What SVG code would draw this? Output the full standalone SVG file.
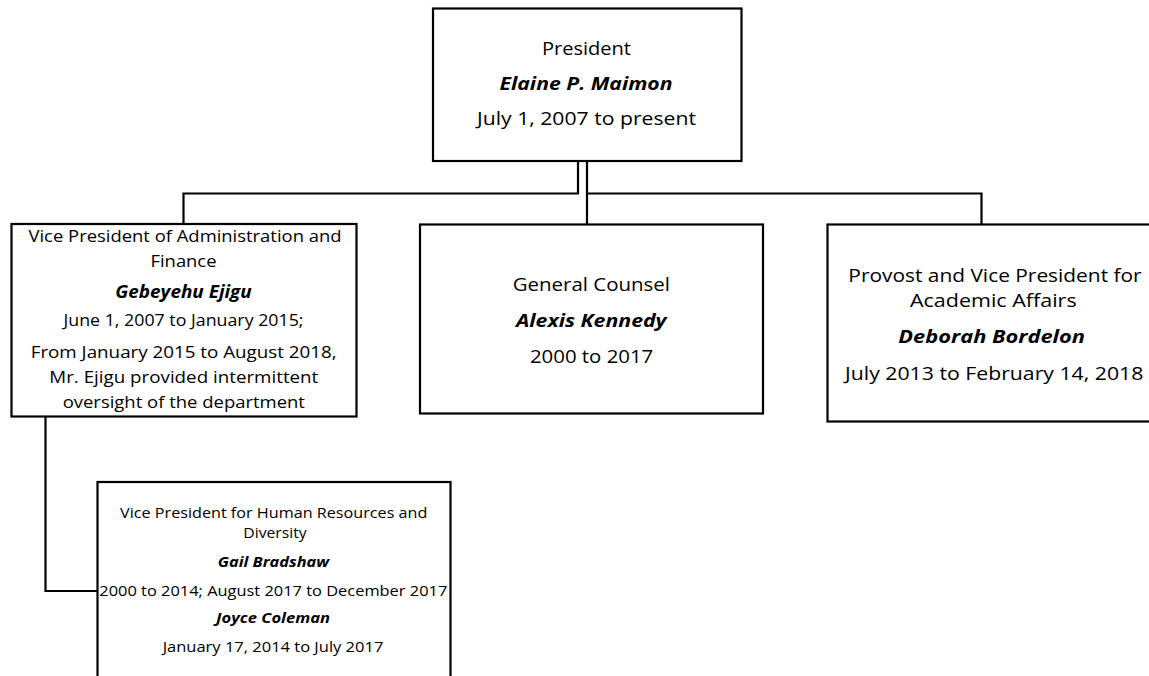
<svg xmlns="http://www.w3.org/2000/svg" width="1149" height="676" viewBox="0 0 1149 676">
  <style>
    .box { fill: #ffffff; stroke: #000000; stroke-width: 2.2; }
    .conn { fill: none; stroke: #000000; stroke-width: 2.2; }
    text { font-family: "Open Sans", "Liberation Sans", sans-serif; fill: #000000; text-anchor: middle; }
    .name { font-weight: bold; font-style: italic; }
    .l1 { font-size: 18.5px; }
    .l2 { font-size: 17.2px; }
    .l3 { font-size: 14.5px; }
  </style>
  <rect width="1149" height="676" fill="#ffffff"/>
  <g id="connectors">
    <path class="conn" d="M578,161 V193.5 H183.5 V224"/>
    <path class="conn" d="M587,161 V224.5"/>
    <path class="conn" d="M587,193.5 H981.5 V224.5"/>
    <path class="conn" d="M45.5,417 V591 H97.5"/>
  </g>
  <g id="president">
    <rect class="box" x="433" y="8.5" width="308.5" height="152.5"/>
    <text class="l1" x="586.5" y="55" textLength="89" lengthAdjust="spacingAndGlyphs">President</text>
    <text class="l1 name" x="586" y="90" textLength="173" lengthAdjust="spacingAndGlyphs">Elaine P. Maimon</text>
    <text class="l1" x="586.5" y="124.5" textLength="219" lengthAdjust="spacingAndGlyphs">July 1, 2007 to present</text>
  </g>
  <g id="vp-admin-finance">
    <rect class="box" x="11.5" y="224" width="345" height="192.5"/>
    <text class="l2" x="185" y="241.7" textLength="313" lengthAdjust="spacingAndGlyphs">Vice President of Administration and</text>
    <text class="l2" x="183.5" y="266.7" textLength="66" lengthAdjust="spacingAndGlyphs">Finance</text>
    <text class="l2 name" x="183.5" y="298.3" textLength="136.5" lengthAdjust="spacingAndGlyphs">Gebeyehu Ejigu</text>
    <text class="l2" x="183.5" y="326" textLength="240" lengthAdjust="spacingAndGlyphs">June 1, 2007 to January 2015;</text>
    <text class="l2" x="183.7" y="358.3" textLength="306" lengthAdjust="spacingAndGlyphs">From January 2015 to August 2018,</text>
    <text class="l2" x="183.8" y="383.3" textLength="269" lengthAdjust="spacingAndGlyphs">Mr. Ejigu provided intermittent</text>
    <text class="l2" x="183.8" y="408.3" textLength="242.3" lengthAdjust="spacingAndGlyphs">oversight of the department</text>
  </g>
  <g id="general-counsel">
    <rect class="box" x="420" y="224.5" width="343" height="189"/>
    <text class="l1" x="591.3" y="290.7" textLength="157.3" lengthAdjust="spacingAndGlyphs">General Counsel</text>
    <text class="l1 name" x="591.3" y="326.7" textLength="150.7" lengthAdjust="spacingAndGlyphs">Alexis Kennedy</text>
    <text class="l1" x="591.6" y="363.3" textLength="123.3" lengthAdjust="spacingAndGlyphs">2000 to 2017</text>
  </g>
  <g id="provost">
    <rect class="box" x="827.5" y="224.5" width="340" height="197"/>
    <text class="l1" x="995" y="281.7" textLength="293.3" lengthAdjust="spacingAndGlyphs">Provost and Vice President for</text>
    <text class="l1" x="993.3" y="306.7" textLength="166.7" lengthAdjust="spacingAndGlyphs">Academic Affairs</text>
    <text class="l1 name" x="991.7" y="343.3" textLength="186.7" lengthAdjust="spacingAndGlyphs">Deborah Bordelon</text>
    <text class="l1" x="994.2" y="380" textLength="298.3" lengthAdjust="spacingAndGlyphs">July 2013 to February 14, 2018</text>
  </g>
  <g id="vp-human-resources">
    <rect class="box" x="97.5" y="482" width="353" height="220"/>
    <text class="l3" x="273.7" y="518.3" textLength="307.3" lengthAdjust="spacingAndGlyphs">Vice President for Human Resources and</text>
    <text class="l3" x="275" y="538.3" textLength="63.4" lengthAdjust="spacingAndGlyphs">Diversity</text>
    <text class="l3 name" x="273.4" y="566.7" textLength="111.3" lengthAdjust="spacingAndGlyphs">Gail Bradshaw</text>
    <text class="l3" x="273.3" y="595.7" textLength="348" lengthAdjust="spacingAndGlyphs">2000 to 2014; August 2017 to December 2017</text>
    <text class="l3 name" x="273" y="623.3" textLength="114" lengthAdjust="spacingAndGlyphs">Joyce Coleman</text>
    <text class="l3" x="273" y="651.7" textLength="220.7" lengthAdjust="spacingAndGlyphs">January 17, 2014 to July 2017</text>
  </g>
</svg>
